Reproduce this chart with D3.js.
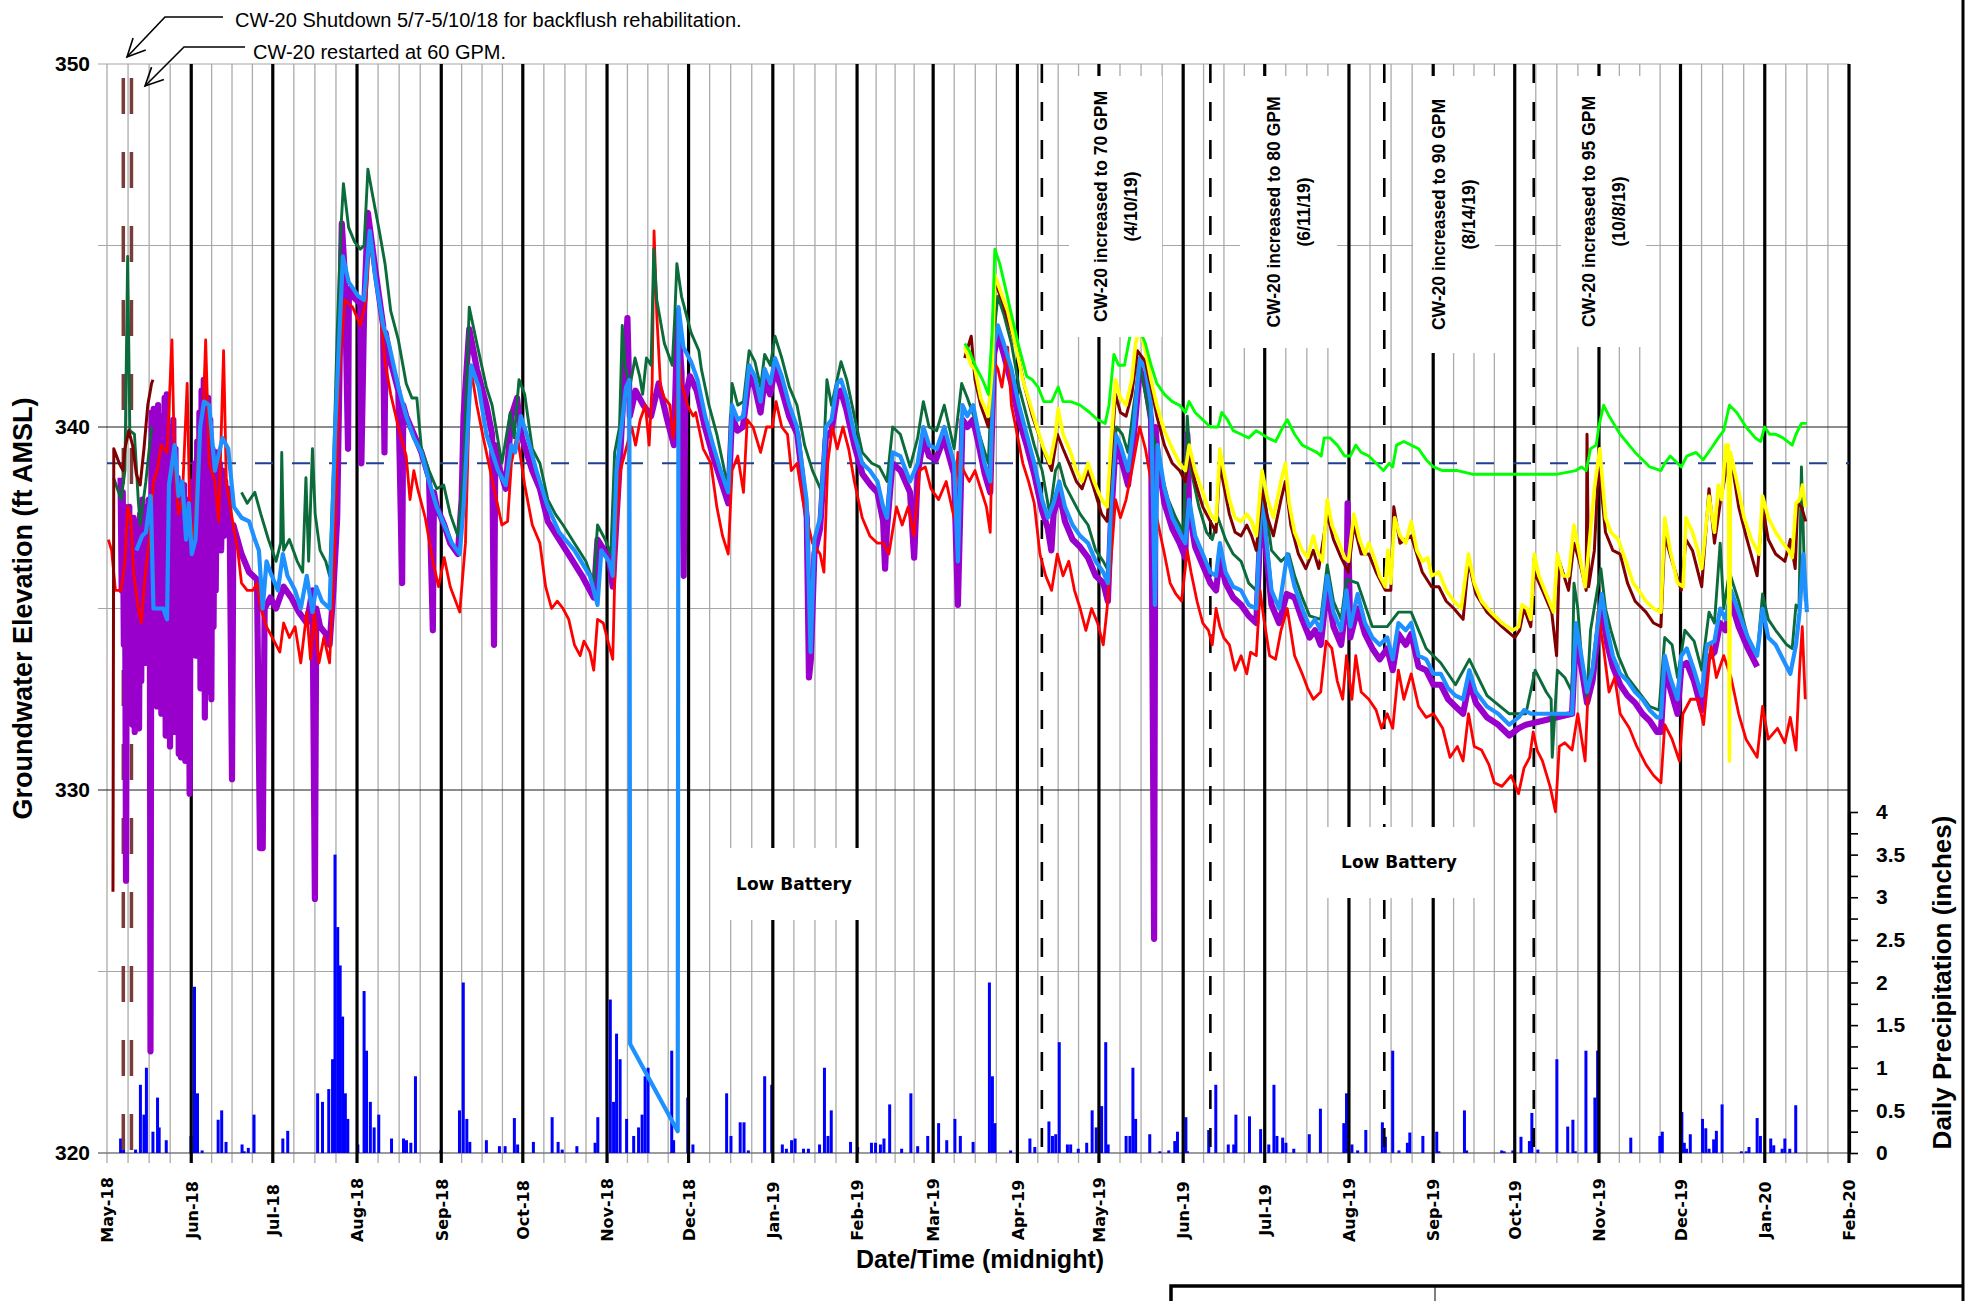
<!DOCTYPE html>
<html>
<head>
<meta charset="utf-8">
<script src="https://cdnjs.cloudflare.com/ajax/libs/d3/7.8.5/d3.min.js"></script>
<style>
  body { margin: 0; background: #fff; }
</style>
</head>
<body>
<div id="chart"></div>
<script>
/* global d3 */

// Canvas
const width = 1969,
  height = 1301
const plot = { left: 107, right: 1849, top: 64, bottom: 1153 }

// ---- Data: [days after 1-May-2018, value] ----
const startDate = '2018-05-01'
const endDate = '2020-02-01'

// groundwater elevations (ft AMSL)
const seriesRed = [[0.5,336.9],[1.7,336.6],[3.1,335.5],[5.2,335.5],[6.6,336.3],[7.6,337.8],[8.7,337.5],[9.8,336.0],[11.5,335.0],[12.6,334.6],[14,335.9],[15.7,337.0],[17.1,338.5],[18.5,338.8],[19.9,339.5],[22.1,339.3],[23.9,342.4],[24.9,338.8],[26.3,337.6],[27.7,338.0],[29.5,341.2],[30.5,337.5],[31.9,336.8],[33.8,339.8],[35.4,340.4],[36.3,342.4],[37.6,339.0],[39.7,338.5],[41.1,337.4],[42.9,342.1],[43.9,338.5],[46,337.5],[48.1,336.6],[49.5,335.7],[51.6,335.5],[53.7,335.5],[55.2,335.7],[56.6,335.0],[58.7,334.5],[61.5,334.1],[63.6,333.8],[65,334.6],[67.1,334.2],[69.2,334.5],[71.3,333.5],[73.5,334.9],[74.9,333.6],[76.3,334.9],[78,333.5],[79.8,334.2],[81.9,333.5],[83.6,336.3],[85.4,341.3],[87.5,343.5],[90.4,343.3],[93.2,342.8],[95.3,343.5],[96.7,345.1],[98.1,344.5],[100.2,343.5],[102.3,341.8],[104.4,340.9],[107.2,340.0],[110.1,339.2],[111.5,338.0],[112.9,338.8],[114.3,338.3],[117.1,337.5],[119.9,336.3],[122,335.6],[124.1,336.4],[126.3,335.6],[129.8,334.9],[131.9,336.8],[133.7,341.7],[136.1,340.6],[138.2,339.8],[141,338.8],[143.9,337.8],[145.3,337.3],[147.4,337.4],[148.8,339.0],[150.9,339.8],[153.7,338.4],[156.5,337.3],[159.3,336.8],[161.4,335.6],[163.6,335.0],[165.7,335.2],[167.8,335.0],[169.9,334.7],[172,334.0],[174.1,333.7],[175.5,334.1],[177.7,333.8],[179.1,333.3],[180.5,334.7],[182.6,334.6],[184.7,334.0],[186.1,333.6],[187.2,336.9],[188.9,338.8],[191,339.4],[193.1,340.0],[194.5,339.5],[196.2,340.2],[198.1,340.6],[199.5,339.5],[200.6,341.2],[201.3,345.4],[202.3,343.1],[203.7,341.1],[205.1,340.8],[207.2,340.6],[208.2,339.7],[209.3,340.3],[210.7,341.8],[211.4,341.2],[213.6,340.6],[215.7,340.3],[216.6,340.4],[219.4,339.4],[222.2,339.0],[224.4,337.8],[226.5,337.0],[228.6,336.5],[230,338.8],[232.1,339.2],[234.2,338.2],[235.6,340.2],[237.7,340.0],[240.5,339.3],[242.7,340.0],[244.8,340.0],[246.2,340.7],[248.3,340.0],[250.4,339.8],[251.8,338.8],[253.9,339.0],[256,338.0],[257.4,337.5],[259.6,336.8],[262.4,336.5],[263.8,336.0],[265.2,339.0],[266.9,340.0],[268.7,339.4],[270.8,340.0],[272.9,339.4],[275,338.5],[277.9,337.5],[280.7,337.0],[283.5,336.8],[285.6,336.8],[287.7,336.5],[290.5,337.8],[292.6,337.3],[294.8,337.8],[296.9,337.0],[299,338.8],[301.1,338.9],[303.2,338.3],[306,338.0],[308.8,338.5],[311.7,337.5],[313.1,339.3],[315.2,338.8],[317.3,338.5],[319.4,338.8],[321.5,338.3],[323.6,337.8],[325,337.1],[326.4,341.8],[327.8,341.6],[329.3,341.1],[331.4,342.2],[332.8,340.6],[334.9,339.8],[337,339.0],[339.1,338.5],[341.2,337.9],[343.3,336.5],[345.4,335.9],[347.6,335.5],[349.7,336.5],[351.8,335.9],[353.9,336.3],[356,335.5],[358.1,335.0],[360.2,334.4],[362.3,335.0],[364.5,334.6],[366.6,334.0],[368,335.0],[369.4,336.3],[371.1,338.0],[372.9,337.5],[375,338.0],[377.1,338.8],[380,340.0],[382.1,339.4],[384.2,338.5],[386.3,337.5],[389.1,336.5],[391.2,335.7],[393.3,335.4],[395.4,335.2],[397.5,336.6],[398.9,336.0],[401.1,335.2],[403.2,334.6],[405.3,334.4],[406.7,334.0],[408.1,335.0],[409.5,334.5],[410.9,334.2],[413,334.0],[415.1,333.3],[417.3,333.7],[419.4,333.2],[420.8,333.8],[422.9,333.7],[424.3,335.5],[425.7,334.7],[427.8,333.7],[430,333.6],[432,334.4],[434.3,335.0],[437,333.7],[439.8,333.2],[441.8,332.8],[443.9,332.5],[446.6,332.7],[448.6,334.1],[450.7,333.9],[452.7,333.0],[454.7,332.5],[456.1,333.7],[458.1,332.5],[459.5,333.7],[461.5,332.7],[464.3,332.5],[467,332.2],[469,331.7],[471.1,332.1],[473.1,331.7],[475.2,333.3],[477.2,332.5],[479.9,333.2],[482.6,332.3],[485.4,332.0],[488.1,332.1],[491.5,331.7],[494.2,330.9],[496.9,331.2],[499,330.8],[501,332.1],[503.1,331.2],[505.8,331.1],[508.5,330.7],[510.5,330.2],[513.3,330.1],[516.7,330.4],[519.4,329.9],[521.4,330.6],[523.5,330.9],[524.8,331.6],[526.2,331.1],[528.2,330.8],[531,330.1],[533,329.4],[534.4,331.2],[536.4,331.3],[539.1,331.1],[541.2,332.1],[543.9,330.8],[545.2,333.1],[547.3,333.5],[548.6,334.9],[550.7,333.9],[552.7,332.7],[554.8,333.1],[556.8,332.1],[560.2,331.7],[562.9,331.2],[566.3,330.7],[569.1,330.4],[571.8,330.2],[573.2,331.8],[575.9,331.4],[578.6,330.8],[579.9,332.1],[582.7,332.5],[585.4,332.5],[587.5,331.8],[590.2,334.0],[592.2,333.1],[594.9,333.7],[597.6,333.1],[600.4,332.1],[603.1,331.4],[607.2,330.9],[609.2,332.3],[611.3,331.4],[614.7,331.7],[617.4,331.3],[619.4,332.0],[621.5,331.1],[622.8,333.3],[623.8,334.5],[624.9,332.5]]

const seriesBlue = [[10.8,336.6],[12.9,337.0],[14.3,337.1],[16.1,338.1],[17.1,335.0],[20.7,335.0],[22.1,334.7],[22.8,338.4],[24.9,339.5],[26.3,338.1],[27.7,338.5],[29.1,336.9],[30.1,337.9],[31.2,336.5],[32.6,336.9],[34.3,340.0],[35.7,340.7],[37.6,340.6],[39.7,338.8],[42.5,339.7],[44.6,339.4],[46.7,337.8],[49.5,337.5],[52.3,337.4],[54.4,336.9],[55.9,336.6],[57.3,335.0],[58.7,336.3],[60.1,336.0],[62.9,335.5],[64.7,336.5],[66.4,335.9],[69.2,335.5],[71.3,335.0],[73.5,335.9],[75.6,334.9],[77,335.6],[79.1,335.2],[81.9,335.0],[84,340.0],[86.8,344.7],[88.9,344.0],[92.5,343.6],[94.6,343.5],[96.7,345.4],[98.8,344.1],[101.6,342.8],[103.7,342.3],[107.2,341.1],[110.1,340.3],[112.9,339.7],[115.7,339.3],[118.5,338.5],[121.3,337.8],[124.1,337.3],[126.9,336.8],[129.8,336.5],[131.2,337.8],[134,341.7],[136.8,341.1],[139.6,339.8],[143.9,338.8],[146.7,338.4],[148.8,339.5],[150.2,339.3],[152.3,340.3],[154.4,339.8],[158,338.8],[162.2,337.8],[166.4,337.1],[172,336.6],[177.7,335.9],[180.5,335.1],[181.9,336.6],[184.7,336.3],[186.1,335.9],[187.5,338.8],[191,341.1],[192.2,341.3],[192.5,323.0],[210,320.6],[210.3,343.3],[212.1,342.2],[214.9,341.8],[217.3,341.3],[220.1,340.3],[223,339.5],[225.8,338.8],[228.6,338.2],[230,340.6],[232.1,340.2],[234.2,340.3],[236.3,341.7],[238.4,341.4],[240.5,340.7],[242,341.6],[244.1,341.2],[245.8,341.9],[248.3,341.4],[251.1,340.6],[253.9,340.0],[256,338.8],[257.4,338.0],[258.9,333.8],[260.3,336.9],[262.4,337.5],[264.5,340.0],[266.6,340.2],[268.7,341.2],[270.1,341.3],[272.2,340.8],[275,339.8],[277.9,339.0],[280.7,338.8],[283.5,338.5],[285.6,337.8],[287,337.5],[289.1,339.3],[291.9,339.2],[295.5,338.5],[298.3,339.0],[300.4,340.0],[302.5,339.5],[305.3,339.4],[308.1,340.0],[311.7,339.0],[313.1,336.3],[314.8,340.6],[316.6,340.3],[318.7,340.6],[320.8,339.8],[322.9,339.0],[325,338.5],[326.4,342.3],[327.8,342.8],[330,342.3],[332.8,341.6],[335.6,340.6],[338.4,339.8],[341.2,339.0],[344.1,338.0],[346.2,337.5],[348.3,337.9],[350.4,338.5],[352.5,337.8],[355.3,337.3],[358.1,337.0],[361,336.8],[363.8,336.3],[366.6,336.0],[368.3,335.7],[369.4,337.8],[371.1,339.8],[372.9,339.5],[375.7,338.8],[377.8,340.0],[380,341.9],[382.1,341.6],[384.2,340.6],[385.6,335.1],[386.6,339.5],[389.1,338.3],[392,337.5],[394.7,337.1],[396.8,336.8],[398.2,338.0],[400.4,337.0],[403.2,336.5],[406,336.0],[408.1,335.9],[409.5,336.8],[411.6,336.0],[414.4,335.6],[417.3,335.5],[420.1,335.1],[422.9,335.0],[425,338.5],[426.4,337.0],[428.5,335.5],[431.3,335.0],[434.3,336.5],[437,335.6],[439.8,335.0],[442.5,334.5],[444.5,334.7],[446.6,334.4],[449,335.9],[451.3,334.9],[454.1,334.4],[456.1,335.5],[457.5,334.5],[460.2,335.4],[462.9,334.6],[465.6,334.2],[468.3,334.0],[471.1,334.2],[473.1,333.6],[475.2,334.6],[477.9,334.4],[479.9,334.6],[482.6,333.7],[485.4,333.6],[488.1,333.2],[490.8,333.2],[493.5,332.8],[496.2,332.6],[499,332.5],[501.3,333.3],[503.7,332.7],[507.8,332.3],[511.9,332.1],[516,331.8],[519.4,332.0],[521.4,332.2],[524.1,332.1],[539.1,332.1],[540.5,334.6],[542.5,333.7],[544.6,332.7],[546.6,333.3],[548.6,334.6],[550,335.4],[552.1,334.4],[554.1,333.7],[556.8,333.2],[559.5,333.0],[562.3,332.7],[565,332.5],[567.7,332.2],[570.4,332.0],[571.8,332.0],[573.2,333.7],[575.2,333.1],[577.9,332.5],[579.3,333.7],[581.3,333.9],[584,333.3],[586.8,332.6],[588.8,334.0],[591.5,334.1],[593.6,335.0],[595.6,334.7],[597.6,335.5],[600.4,334.9],[603.8,334.2],[607.2,333.7],[609.2,335.0],[611.3,334.2],[614,334.0],[616.7,333.6],[619.4,333.2],[621.5,334.0],[622.8,334.9],[624.2,336.5],[625.5,334.9]]

const seriesPurple = [[5.0,338.6],[5.4,335.5],[5.8,338.2],[6.2,334.0],[6.6,337.8],[7.0,327.5],[7.4,337.5],[7.8,333.2],[8.2,337.8],[8.6,332.8],[9.0,337.2],[9.4,331.8],[9.8,337.5],[10.2,331.6],[10.6,337.0],[11.0,332.0],[11.4,337.4],[11.8,331.7],[12.2,337.6],[12.6,333.0],[13.0,338.0],[13.4,333.8],[13.8,337.2],[14.2,333.5],[14.6,337.8],[15.0,334.0],[15.4,338.0],[15.8,333.6],[16.0,322.8],[16.4,340.4],[16.8,334.5],[17.2,340.5],[17.6,333.0],[18.0,340.2],[18.4,332.3],[18.8,340.6],[19.2,332.8],[19.6,339.8],[20.0,332.1],[20.4,340.3],[20.8,333.5],[21.2,340.8],[21.6,331.5],[22.0,340.9],[22.4,332.2],[22.8,340.0],[23.2,331.2],[23.6,339.6],[24.0,333.0],[24.4,340.2],[24.8,331.6],[25.2,339.4],[25.6,332.5],[26.0,338.6],[26.4,331.0],[26.8,338.2],[27.2,330.9],[27.6,337.8],[28.0,332.0],[28.4,338.4],[28.8,330.8],[29.2,337.6],[29.6,331.5],[30.0,338.0],[30.4,329.9],[30.8,336.5],[31.2,333.8],[31.6,338.5],[32.0,334.0],[32.4,339.0],[32.8,333.7],[33.2,339.6],[33.6,334.2],[34.0,340.4],[34.4,332.8],[34.8,341.0],[35.2,333.0],[35.6,341.3],[36.0,332.0],[36.4,340.6],[36.8,333.5],[37.2,340.8],[37.6,332.7],[38.0,340.2],[38.4,332.5],[38.8,339.4],[39.2,334.5],[39.6,338.8],[40.0,335.5],[40.5,339.3],[41.0,336.8],[41.5,339.0],[42.0,336.6],[42.5,338.8],[43.0,337.0],[43.5,338.5],[44.0,337.2],[44.6,338.3],[45.2,337.0],[46.0,330.3],[46.5,337.3],[49.5,336.5],[52.3,336.0],[55.2,335.8],[56.3,328.4],[57.3,328.4],[58.0,335.0],[60.1,335.3],[62.2,335.0],[65.0,335.6],[67.8,335.3],[70.6,334.9],[73.5,334.6],[75.6,335.5],[76.5,327.0],[77.0,335.0],[78.4,334.5],[80.5,334.3],[81.9,334.0],[83.3,335.5],[84.7,337.5],[86.4,345.6],[87.5,344.2],[88.7,339.4],[89.0,343.8],[90.4,343.6],[93.2,343.4],[93.6,339.0],[94.6,343.2],[96.0,345.9],[98.8,344.3],[101.6,342.8],[102.1,339.3],[102.5,342.6],[104.4,341.8],[107.2,341.0],[108.6,335.7],[109.0,340.6],[110.1,340.3],[112.9,339.8],[115.7,339.3],[118.5,338.6],[119.9,334.4],[120.3,338.2],[121.3,337.8],[124.1,337.3],[126.3,336.8],[129.1,336.5],[130.5,338.0],[131.2,340.3],[133.3,342.7],[136.1,341.6],[139.6,340.6],[141.7,339.8],[142.4,334.0],[142.9,339.5],[143.9,339.0],[146.7,338.3],[148.8,340.3],[150.9,340.8],[152.3,339.8],[156.5,338.8],[159.3,338.3],[162.2,337.4],[166.4,336.9],[170.6,336.4],[174.8,335.9],[179.1,335.3],[180.5,336.9],[184.7,336.4],[186.1,335.6],[187.5,337.5],[188.9,339.3],[191.5,343.0],[192.4,340.3],[194.5,341.0],[197.4,340.6],[200.2,340.3],[203.0,341.2],[205.8,340.3],[208.6,339.5],[210.0,343.2],[211.4,341.5],[212.2,335.9],[212.8,340.8],[214.5,341.4],[217,341.0],[220,340.0],[223,339.2],[226,338.5],[228.6,337.9],[230,340.3],[232,339.9],[234,340.0],[236.3,341.4],[238.4,341.1],[240.5,340.4],[242,341.3],[244,340.9],[245.8,341.6],[248,341.1],[251,340.3],[254,339.8],[256,338.5],[257.5,337.5],[258.3,333.1],[259,333.6],[260.3,336.5],[262.4,337.2],[264.5,339.7],[266.6,339.9],[268.7,340.9],[270,341.0],[272,340.5],[275,339.5],[278,338.7],[281,338.4],[283.5,338.2],[285.6,337.4],[286.3,336.1],[287,337.2],[289,339.0],[292,338.8],[295.5,338.2],[297,336.4],[298.3,338.7],[300.4,339.7],[302.5,339.2],[305,339.1],[308,339.7],[311.7,338.7],[313.1,335.1],[314.8,340.2],[316.6,340.0],[318.7,340.2],[320.8,339.5],[323,338.7],[325,338.2],[326.4,342.0],[327.8,342.6],[330,342.0],[332.8,341.2],[335.6,340.2],[338.4,339.5],[341.2,338.7],[344.1,337.7],[346.2,337.2],[347.5,336.6],[348.3,337.6],[350.4,338.2],[352.5,337.4],[355.3,336.9],[358,336.7],[361,336.4],[363.8,335.9],[366.6,335.7],[368.3,335.2],[369.4,337.4],[371.1,339.5],[372.9,339.2],[375.7,338.4],[377.8,339.7],[380,341.6],[382.1,341.2],[384.2,340.2],[385.3,325.9],[385.8,340.0],[386.6,339.2],[389.1,337.9],[392,337.2],[394.7,336.8],[396.8,336.4],[397.5,339.8],[398.2,337.7],[400.4,336.7],[403.2,336.2],[406,335.7],[408.1,335.5],[409.5,336.4],[411.6,335.7],[414.4,335.3],[417.3,335.1],[420.1,334.8],[422.9,334.6],[425,338.2],[426.4,336.7],[428.5,335.1],[431.3,334.6],[434.1,335.4],[437,335.3],[439.8,334.7],[442.5,334.2],[444.5,334.4],[446.6,334.0],[449,335.6],[451.3,334.5],[454.1,334.0],[456.1,335.2],[456.5,337.9],[457.5,334.2],[460.2,335.0],[462.9,334.3],[465.6,333.9],[468.3,333.6],[471.1,333.9],[473.1,333.3],[475.2,334.3],[477.9,334.0],[479.9,334.3],[482.6,333.4],[485.4,333.3],[488.1,332.9],[490.8,332.9],[493.5,332.5],[496.2,332.3],[499,332.1],[501.3,333.0],[503.7,332.4],[507.8,332.0],[511.9,331.8],[516,331.5],[519.4,331.7],[522.1,331.8],[539.1,332.1],[540.5,334.3],[542.5,333.4],[544.6,332.4],[546.6,333.0],[548.6,334.3],[550,335.0],[552.1,334.0],[554.1,333.4],[556.8,332.9],[559.5,332.6],[562.3,332.4],[565,332.1],[567.7,331.9],[570.4,331.6],[571.8,331.6],[573.2,333.4],[575.2,332.8],[577.9,332.1],[579.3,333.4],[581.3,333.5],[584,333.0],[586.8,332.2],[588.8,333.6],[591.5,333.8],[593.6,334.6],[595.6,334.4],[597.6,335.2],[600.4,334.5],[603.8,333.9],[607.2,333.4]]

const seriesDarkGreen = [[2.4,338.6],[5.2,338.0],[6.6,338.8],[7.6,344.7],[8.4,339.9],[10.1,339.8],[11.5,338.0],[12.2,337.3],[14.3,338.5],[16.4,340.0],[17,null],[49.5,338.2],[51.6,337.9],[54.4,338.2],[56.6,337.6],[59.4,336.9],[62.2,336.3],[63.9,336.8],[64.3,339.3],[65,336.6],[67.1,336.9],[70,336.3],[72,336.0],[73.2,338.6],[74.2,336.3],[75.6,339.4],[76.6,337.6],[78.4,336.6],[80.5,336.3],[81.9,335.9],[83.3,338.8],[84.7,342.6],[86.1,345.5],[87,346.7],[88.9,345.5],[91.1,345.1],[93.2,344.9],[94.6,345.0],[96,347.1],[97.7,346.4],[100.2,345.4],[102.3,344.5],[104.4,343.2],[107.2,342.4],[110.1,341.2],[112.2,340.8],[114,340.8],[115.7,339.4],[118.5,338.8],[121.3,338.3],[123.9,338.4],[126.3,337.6],[129.1,337.0],[131.2,338.8],[133.3,343.3],[136.1,342.3],[139.6,341.1],[141.7,340.6],[145.3,339.0],[148.4,340.4],[149.8,339.7],[151.6,341.3],[153.7,340.9],[156.5,339.4],[159.3,339.0],[162.2,338.0],[165,337.6],[167.8,337.3],[172,336.8],[176.2,336.3],[179.1,335.7],[180.5,337.3],[183.3,336.9],[185.4,336.5],[186.8,339.3],[188.6,340.0],[189.6,342.8],[190.6,341.7],[192.4,341.1],[194.3,341.9],[196,341.4],[197.1,340.9],[198.5,341.9],[200.2,341.7],[201.2,344.9],[202.3,343.5],[205.1,342.3],[208,341.7],[208.9,343.0],[209.7,344.5],[211.4,343.6],[214.9,342.6],[217.8,342.1],[218.7,341.6],[221.5,340.6],[224.4,339.8],[227.2,338.8],[228.6,338.4],[230,341.2],[232.1,340.6],[234.2,340.7],[236.3,342.1],[238.4,341.8],[240.5,341.1],[242,342.0],[244.1,341.7],[245.8,342.5],[248.3,341.9],[251.1,341.1],[253.9,340.6],[256.7,339.5],[259.6,338.8],[263.1,338.2],[264.9,341.3],[266.6,340.6],[270.1,341.8],[272.2,341.3],[275,340.3],[277.9,339.3],[281.4,339.0],[284.2,338.9],[287,338.5],[289.1,340.0],[291.9,339.8],[295.5,338.9],[298.3,339.7],[300.4,340.7],[302.5,340.0],[305.3,339.9],[308.1,340.6],[311.7,339.4],[314.5,341.2],[316.6,340.8],[319.4,340.2],[322.2,339.5],[324.3,339.0],[326.4,342.6],[327.8,343.6],[330,343.1],[332.8,342.3],[335.6,341.1],[338.4,340.3],[341.2,339.5],[344.1,338.8],[346.9,337.6],[349,338.8],[350.4,339.0],[352.5,338.4],[355.3,338.0],[358.1,337.6],[361,337.3],[363.8,336.6],[366.6,336.3],[368.7,336.0],[370.1,339.3],[371.5,340.0],[373.6,339.8],[375.7,339.3],[377.8,340.6],[380,341.7],[382.1,340.9],[384.9,339.8],[387.7,338.8],[390.5,338.0],[393.3,337.5],[396.1,337.1],[397.5,340.3],[398.9,338.8],[401.8,337.8],[404.6,337.1],[406.7,336.9],[408.8,337.5],[411.6,336.9],[414.4,336.5],[417.3,336.3],[420.1,335.7],[422.9,335.5],[425.7,338.2],[428.5,336.6],[432,336.3],[434.9,336.5],[437,335.9],[439.8,335.3],[442.5,334.8],[446.6,334.7],[449,336.2],[451.3,335.2],[454.1,334.7],[456.1,335.8],[460.2,335.7],[465.6,334.5],[471.1,334.5],[475.2,334.9],[479.9,334.9],[485.4,333.9],[490.8,333.5],[496.2,332.9],[501.3,333.6],[507.8,332.6],[516,332.1],[522.1,332.1],[525.5,333.3],[529.6,332.7],[531.4,332.5],[531.8,330.9],[533.7,333.3],[536.4,333.1],[539.1,332.7],[539.8,335.7],[541.2,335.0],[542.5,333.7],[544.6,332.6],[545.9,334.4],[549.7,336.1],[551.4,335.0],[553.4,334.4],[556.1,333.7],[559.5,333.1],[563.6,332.7],[567.7,332.3],[571.1,332.2],[573.2,334.2],[575.9,334.0],[577.9,333.1],[580.6,334.4],[584,334.1],[586.8,333.3],[589.5,334.9],[591.5,334.6],[593.6,336.8],[594.9,335.0],[597,336.0],[600.4,335.2],[603.8,334.2],[607.2,333.7],[609.2,335.4],[611.3,334.7],[614,334.4],[618.1,334.0],[620.1,333.9],[621.5,335.1],[622.6,335.0],[623.5,338.9],[624.9,335.2]]

const seriesMaroon = [[2.2,327.2],[2.5,339.4],[4.5,339.0],[5.9,338.8],[6.6,339.4],[8,339.9],[9.4,339.5],[10.8,338.7],[12.2,338.4],[13.6,339.4],[15,340.6],[16.4,341.2],[16.9,341.3],[17.5,null],[315.6,341.9],[318,342.5],[319.4,341.3],[321.5,340.6],[324.3,340.0],[326.7,344.0],[329.3,343.5],[332.1,342.8],[334.9,342.1],[337.7,341.1],[340.5,340.3],[343.3,339.7],[345.4,339.2],[347.6,338.8],[349.7,339.8],[351.8,339.4],[354.6,338.9],[356.7,338.5],[358.8,338.3],[361,338.8],[363.2,338.3],[366,337.6],[368,337.4],[369.4,339.0],[371.1,340.9],[372.9,340.4],[375,340.3],[377.1,340.9],[379.2,342.1],[382.1,341.8],[384.2,341.1],[386.3,340.3],[389.1,339.5],[392,339.0],[394.7,338.8],[396.8,338.5],[398.2,339.3],[400.4,338.5],[403.2,337.8],[406,337.4],[408.1,337.1],[409.5,339.0],[410.9,338.4],[413,337.6],[415.1,337.1],[417.3,337.0],[419.4,337.3],[421.2,337.0],[422.9,336.6],[425,338.3],[427.1,337.5],[429.2,337.0],[432,338.0],[433.6,338.5],[435.6,337.3],[438.4,336.5],[441.1,336.1],[443.9,336.6],[445.9,336.1],[449,337.6],[451.3,336.9],[454.1,336.4],[456.8,336.0],[458.8,337.3],[461.5,336.5],[464.3,336.5],[467,336.0],[470.4,335.5],[472.4,335.5],[473.5,337.8],[475.8,336.8],[479.9,337.0],[484,336.0],[487.4,335.6],[490.1,335.6],[492.8,335.2],[495.6,335.0],[499,334.7],[501,336.3],[503.7,335.4],[507.8,334.9],[513.3,334.5],[518,334.2],[519.8,334.4],[521.4,335.0],[523.9,334.5],[525.2,336.0],[528.2,335.5],[531.6,334.9],[533.4,333.7],[534.4,336.3],[537.8,335.5],[539.8,336.8],[541.8,336.3],[544.3,335.5],[544.6,339.8],[545.2,335.6],[547.3,336.6],[548.9,339.0],[551.4,337.1],[554.1,336.6],[556.8,336.5],[559.5,335.7],[562.3,335.2],[566.3,334.9],[569.1,334.6],[571.8,334.5],[573.2,337.0],[575.9,336.3],[579.3,335.5],[581,336.9],[583.4,336.6],[586.8,335.6],[589.5,338.3],[591.5,336.8],[593.6,337.9],[596.3,339.0],[598.3,338.8],[600.4,337.8],[603.1,337.0],[607.2,335.9],[609.2,337.8],[611.3,336.9],[614,336.5],[617.4,336.3],[619.4,336.9],[621.2,336.1],[622.1,337.9],[623.5,337.8],[625.1,337.4]]

const seriesYellow = [[315.6,342.2],[318,341.7],[319.4,341.6],[321.5,340.8],[324.3,340.3],[325.7,341.6],[326.7,344.2],[328.5,343.8],[331.4,343.2],[334.2,342.3],[337,341.3],[339.8,340.6],[342.6,339.9],[344.7,339.4],[346.9,339.0],[349,339.8],[350,340.5],[351.8,339.8],[354.6,339.3],[356.7,338.8],[358.8,338.5],[361,339.0],[363.2,338.5],[366,338.0],[368,337.8],[369.4,339.5],[371.1,341.3],[372.9,340.8],[375,340.6],[377.1,341.3],[378.5,342.3],[380,342.8],[382.1,342.1],[384.2,341.3],[386.3,340.6],[389.1,339.9],[392,339.4],[394.7,339.0],[396.8,338.8],[398.2,339.5],[400.4,338.8],[403.2,338.2],[406,337.6],[408.1,337.4],[409.5,339.4],[410.9,338.8],[413,338.0],[415.1,337.5],[417.3,337.4],[419.4,337.6],[421.2,337.4],[422.9,337.0],[425,338.8],[427.1,338.0],[429.2,337.5],[432,338.5],[433.6,339.0],[435,337.9],[437,337.1],[439.8,336.6],[441.8,336.4],[443.9,337.0],[445.2,336.6],[447.3,336.3],[449,338.0],[450.7,337.3],[453.4,336.8],[455.4,336.4],[456.8,336.3],[458.8,337.6],[460.9,336.9],[462.9,336.5],[464.3,336.8],[466.3,336.4],[468.3,335.9],[470.4,335.6],[471.3,336.6],[472.4,335.7],[473.8,337.5],[475.8,337.0],[477.9,336.8],[479.9,337.4],[482,336.6],[484,336.3],[486,336.4],[487.4,335.9],[490.1,336.0],[492.8,335.5],[495.6,335.2],[498.3,335.0],[501,336.5],[503.1,335.7],[505.8,335.2],[509.2,334.9],[513.3,334.6],[517.3,334.4],[519.4,334.5],[520.7,335.1],[522.5,335.0],[523.9,334.7],[525.2,336.5],[526.9,335.9],[529.6,335.4],[532.3,334.9],[533.7,336.5],[535.7,335.9],[537.8,335.9],[539.8,337.3],[541.8,336.5],[543.9,335.6],[545.2,336.6],[547.3,338.3],[549.3,339.4],[551.4,337.5],[553.4,337.1],[556.1,336.9],[558.9,336.3],[561.6,335.7],[563.6,335.5],[566.3,335.2],[569.1,335.0],[571.8,334.9],[573.2,337.5],[575.2,336.6],[577.9,335.7],[580,335.6],[581,337.5],[583.4,337.1],[585.4,336.6],[586.8,336.1],[589.5,338.1],[591.5,337.1],[592.9,338.4],[594.2,338.0],[595.6,339.5],[596.6,339.5],[597,330.8],[597.4,339.3],[599.7,338.5],[602.4,337.5],[605.1,336.9],[607.9,336.5],[609.2,338.1],[611.3,337.5],[614,337.1],[616.7,336.8],[618.7,336.6],[620.1,336.4],[621.5,337.9],[622.8,338.0],[623.9,338.4],[624.9,337.8]]

const seriesLime = [[315.6,342.3],[317.3,342.1],[319.4,341.7],[322.2,341.3],[324.3,340.9],[325.7,342.6],[326.7,344.9],[328.5,344.5],[330.7,343.8],[332.8,343.1],[335.6,342.2],[338.4,341.4],[340.5,341.3],[342.6,341.1],[344.7,340.7],[347.6,340.7],[350,341.1],[351.8,340.7],[354.6,340.7],[358.1,340.6],[361.6,340.4],[364.5,340.2],[367.3,340.1],[368.7,340.6],[370.5,342.0],[372.3,341.7],[374.4,341.7],[376.4,342.5],[379.2,342.8],[382.1,342.3],[384.2,341.7],[386.3,341.2],[389.1,340.9],[392,340.7],[394.7,340.6],[396.8,340.4],[398.2,340.7],[400.4,340.4],[403.2,340.2],[406,340.0],[408.8,340.0],[410.2,340.4],[412.3,340.2],[414.4,339.9],[417.3,339.8],[420.1,339.7],[422.9,339.9],[425,339.8],[427.1,339.7],[430,339.6],[432.7,340.0],[434.3,340.2],[437,339.8],[439.8,339.5],[442.5,339.4],[445.2,339.3],[446.8,339.2],[447.9,339.7],[450,339.7],[452.7,339.5],[455.4,339.2],[457.5,339.2],[459.5,339.5],[461.5,339.3],[464.3,339.2],[467,339.0],[469.7,338.8],[471.8,339.0],[473.1,338.9],[474.5,339.5],[477.2,339.6],[479.9,339.5],[482.6,339.4],[485.4,339.1],[488.1,338.9],[491.5,338.8],[496.9,338.8],[502.4,338.7],[507.8,338.7],[513.3,338.7],[520.1,338.7],[526.9,338.7],[533.7,338.7],[540.5,338.8],[542.5,338.9],[544.3,338.8],[545.9,339.4],[548,339.5],[548.9,340.0],[550.7,340.6],[552.7,340.3],[556.8,339.8],[562.3,339.3],[567.7,338.9],[571.8,338.8],[573.2,339.0],[575.2,339.2],[579.3,338.9],[581.3,339.2],[584.7,339.3],[587.4,339.1],[590.2,339.4],[592.9,339.7],[594.9,339.9],[597,340.6],[599.7,340.4],[603.1,340.0],[606.5,339.7],[608.5,339.6],[609.9,340.0],[611.9,339.8],[614,339.8],[616.7,339.7],[620.1,339.5],[621.5,339.8],[623.5,340.1],[625.5,340.1]]

// daily precipitation (inches)
const precipitation = [[5.0,0.17],[6.1,0.17],[10.5,0.04],[12.3,0.8],[13.6,0.45],[14.5,1.0],[16.9,0.25],[18.6,0.65],[19.2,0.3],[21.8,0.15],[30.9,0.2],[32.2,1.95],[33.3,0.7],[35,0.03],[40.9,0.39],[42.2,0.5],[43.8,0.13],[49.7,0.1],[50.5,0.02],[52,0.06],[54.1,0.45],[64.7,0.17],[66.5,0.26],[77.5,0.7],[79.3,0.6],[81.6,0.75],[83,1.1],[83.9,3.5],[84.9,2.65],[85.8,2.2],[86.7,1.6],[87.7,0.7],[88.6,0.4],[92.3,0.1],[94.6,1.9],[95.5,1.2],[96.9,0.6],[98.3,0.3],[100,0.45],[104.7,0.17],[109.1,0.17],[110.2,0.15],[111.8,0.12],[113.5,0.9],[122.8,0.03],[129.7,0.5],[131.1,2.0],[132.4,0.4],[133.5,0.13],[139.6,0.15],[144.4,0.08],[146.5,0.08],[149.9,0.41],[151.1,0.1],[156.9,0.13],[163.8,0.42],[166,0.13],[167.5,0.04],[172.9,0.08],[179.6,0.12],[180.6,0.42],[185.2,1.8],[186.4,0.6],[187.5,1.4],[188.8,1.1],[191.2,0.4],[193.8,0.2],[195.6,0.3],[196.9,0.45],[198,0.9],[199.1,1.0],[207.8,1.2],[208.5,0.15],[213.7,0.65],[215.6,0.1],[228,0.7],[229.6,0.2],[233,0.36],[234.4,0.36],[236,0.03],[242,0.9],[244.6,0.8],[248.5,0.1],[250,0.05],[251.9,0.15],[253.2,0.17],[256.3,0.05],[258.1,0.05],[262.2,0.1],[264,1.0],[265.3,0.2],[266.5,0.5],[273.6,0.13],[276.2,0.07],[281.3,0.12],[282.8,0.12],[284.6,0.1],[285.9,0.17],[288,0.57],[292.4,0.05],[295.8,0.7],[298.3,0.08],[302,0.2],[306,0.35],[309,0.15],[312,0.4],[314,0.2],[318.7,0.13],[324.7,2.0],[325.8,0.9],[326.7,0.35],[332.5,0.03],[339.6,0.17],[341.4,0.07],[346.6,0.37],[347.9,0.2],[349.1,0.22],[350.4,1.3],[353.4,0.1],[354.6,0.1],[357.4,0.05],[360.5,0.12],[362.5,0.5],[364,0.3],[366,0.55],[367.5,1.3],[368.4,0.1],[375,0.2],[376.4,0.2],[377.5,1.0],[378.5,0.4],[383.7,0.22],[387.4,0.02],[390.7,0.03],[392.9,0.14],[393.9,0.25],[397,0.42],[397.6,0.02],[405.4,0.27],[408,0.8],[412.6,0.1],[414.6,0.1],[415.4,0.45],[420.4,0.43],[424.5,0.28],[427.5,0.1],[429.4,0.8],[430.5,0.2],[432.6,0.18],[433.8,0.12],[436.7,0.05],[442.4,0.22],[446.5,0.52],[455.1,0.35],[456.1,0.7],[458.1,0.1],[460.2,0.03],[463.2,0.27],[469.3,0.36],[470.4,0.19],[473.1,1.2],[475.4,0.03],[478.5,0.12],[479.4,0.24],[484.2,0.2],[489.3,0.25],[490.1,0.02],[499.5,0.5],[500.3,0.03],[513.2,0.03],[514.1,0.02],[517.3,0.03],[520.3,0.19],[523.4,0.14],[524.3,0.47],[526.5,0.04],[533.5,1.1],[537.5,0.31],[539.4,0.39],[540.3,0.02],[544.2,1.2],[547.5,0.65],[548.5,1.2],[560.7,0.18],[571.4,0.2],[572.3,0.25],[579.5,0.48],[580.4,0.12],[581.2,0.05],[582.6,0.22],[587.1,0.4],[588.3,0.29],[589.5,0.05],[591.2,0.16],[592.2,0.26],[594.3,0.57],[601.4,0.02],[603.2,0.02],[604.2,0.07],[607.2,0.41],[608.4,0.2],[612.2,0.17],[613.3,0.09],[616.4,0.05],[617.4,0.17],[619.2,0.05],[621.4,0.56]]

// reference level, events, notes
const referenceLevel = 339
const shutdownDays = [6, 9]            // 5/7/18 and 5/10/18
const rateChangeDays = [344, 406, 470, 525]  // 4/10/19, 6/11/19, 8/14/19, 10/8/19
const rateChangeLabels = [
  ['CW-20 increased to 70 GPM', '(4/10/19)'],
  ['CW-20 increased to 80 GPM', '(6/11/19)'],
  ['CW-20 increased to 90 GPM', '(8/14/19)'],
  ['CW-20 increased to 95 GPM', '(10/8/19)']
]
const elevationTicks = [320, 330, 340, 350]
const elevationGrid = [320, 325, 330, 335, 340, 345, 350]
const precipTicks = d3.range(0, 4.001, 0.25)

// ---- helpers ----
const dayMs = 864e5
const t0 = d3.utcParse('%Y-%m-%d')(startDate)
const toDate = d => new Date(t0.getTime() + d * dayMs)

const svg = d3.select('#chart')
  .append('svg')
  .attr('width', width)
  .attr('height', height)
  .style('background', '#fff')
  .style('display', 'block')

const x = d3.scaleUtc()
  .domain([t0, d3.utcParse('%Y-%m-%d')(endDate)])
  .range([plot.left, plot.right])

const y = d3.scaleLinear()
  .domain([320, 350])
  .range([plot.bottom, plot.top])

const yP = d3.scaleLinear()
  .domain([0, 4])
  .range([plot.bottom, 812])

const months = d3.utcMonth.range(t0, d3.utcDay.offset(x.domain()[1], 1))

// vertical quarter-month gridlines
const quarterLines = []
months.slice(0, -1).forEach((m, i) => {
  const next = months[i + 1]
  for (let k = 0; k <= 3; k++) quarterLines.push(new Date(+m + (next - m) * k / 4))
})

svg.append('g')
  .selectAll('line')
  .data(quarterLines)
  .enter()
  .append('line')
  .attr('x1', d => x(d)).attr('x2', d => x(d))
  .attr('y1', plot.top).attr('y2', plot.bottom + 10)
  .attr('stroke', '#ababab')
  .attr('stroke-width', 1.3)

// horizontal gridlines
svg.append('g')
  .selectAll('line')
  .data(elevationGrid)
  .enter()
  .append('line')
  .attr('x1', plot.left - 9).attr('x2', plot.right)
  .attr('y1', d => y(d)).attr('y2', d => y(d))
  .attr('stroke', d => (d === 330 || d === 340) ? '#1a1a1a' : (d === 320 ? '#7a7a7a' : '#a6a6a6'))
  .attr('stroke-width', d => d === 320 ? 1.6 : 1.2)

// precipitation bars
const barW = 3
svg.append('g')
  .selectAll('rect')
  .data(precipitation)
  .enter()
  .append('rect')
  .attr('x', d => x(toDate(d[0])) - barW / 2)
  .attr('y', d => yP(d[1]))
  .attr('width', barW)
  .attr('height', d => plot.bottom - yP(d[1]))
  .attr('fill', '#0000ff')

// thick month lines
svg.append('g')
  .selectAll('line')
  .data(months.slice(1))
  .enter()
  .append('line')
  .attr('x1', d => x(d)).attr('x2', d => x(d))
  .attr('y1', plot.top).attr('y2', plot.bottom + 10)
  .attr('stroke', '#000')
  .attr('stroke-width', 3.2)

// reference level
svg.append('line')
  .attr('x1', plot.left).attr('x2', plot.right)
  .attr('y1', y(referenceLevel)).attr('y2', y(referenceLevel))
  .attr('stroke', '#1f3f8f')
  .attr('stroke-width', 2)
  .attr('stroke-dasharray', '18,19')

// shutdown dashed lines
svg.append('g')
  .selectAll('line')
  .data(shutdownDays)
  .enter()
  .append('line')
  .attr('x1', d => x(toDate(d))).attr('x2', d => x(toDate(d)))
  .attr('y1', 78).attr('y2', plot.bottom)
  .attr('stroke', '#7a3b3b')
  .attr('stroke-width', 3.5)
  .attr('stroke-dasharray', '36,38')

// pumping-rate change dashed lines
svg.append('g')
  .selectAll('line')
  .data(rateChangeDays)
  .enter()
  .append('line')
  .attr('x1', d => x(toDate(d))).attr('x2', d => x(toDate(d)))
  .attr('y1', plot.top).attr('y2', plot.bottom)
  .attr('stroke', '#000')
  .attr('stroke-width', 2.6)
  .attr('stroke-dasharray', '19,19')

// groundwater lines
const line = d3.line()
  .defined(d => d[1] != null)
  .x(d => x(toDate(d[0])))
  .y(d => y(d[1]))

const series = [
  { data: seriesPurple, color: '#9900cc', w: 6.2 },
  { data: seriesRed, color: '#ff0000', w: 2.8 },
  { data: seriesDarkGreen, color: '#0b6b3a', w: 2.9 },
  { data: seriesBlue, color: '#1e90ff', w: 4.2 },
  { data: seriesMaroon, color: '#800000', w: 3 },
  { data: seriesYellow, color: '#ffff00', w: 3.6 },
  { data: seriesLime, color: '#00ff00', w: 2.9 }
]

svg.append('g')
  .selectAll('path')
  .data(series)
  .enter()
  .append('path')
  .attr('d', s => line(s.data))
  .attr('fill', 'none')
  .attr('stroke', s => s.color)
  .attr('stroke-width', s => s.w)
  .attr('stroke-linejoin', 'round')

// annotation boxes for pumping changes
const boxes = [
  { x0: 1069, x1: 1162, y1: 337 },
  { x0: 1240, x1: 1337, y1: 348 },
  { x0: 1413, x1: 1495, y1: 353 },
  { x0: 1561, x1: 1646, y1: 347 }
]
boxes.forEach((b, i) => {
  const g = svg.append('g')
  g.append('rect')
    .attr('x', b.x0).attr('y', 76)
    .attr('width', b.x1 - b.x0).attr('height', b.y1 - 76)
    .attr('fill', '#fff')
  const cx = (b.x0 + b.x1) / 2, cy = (76 + b.y1) / 2
  const lines = rateChangeLabels[i]
  lines.forEach((t, j) => {
    g.append('text')
      .attr('transform', `translate(${cx + (j - 0.5) * 30},${cy}) rotate(-90)`)
      .attr('text-anchor', 'middle')
      .attr('dy', '0.35em')
      .style('font-family', '"Liberation Sans", Arial, sans-serif')
      .style('font-weight', 'bold')
      .style('font-size', '17.5px')
      .text(t)
  })
})

// low battery notes
const lowBattery = [
  { x0: 722, x1: 866, y0: 848, y1: 920 },
  { x0: 1322, x1: 1476, y0: 827, y1: 898 }
]
lowBattery.forEach(b => {
  svg.append('rect')
    .attr('x', b.x0).attr('y', b.y0)
    .attr('width', b.x1 - b.x0).attr('height', b.y1 - b.y0)
    .attr('fill', '#fff')
  svg.append('text')
    .attr('x', (b.x0 + b.x1) / 2).attr('y', (b.y0 + b.y1) / 2)
    .attr('text-anchor', 'middle')
    .attr('dy', '0.35em')
    .style('font-family', '"DejaVu Sans", Verdana, sans-serif')
    .style('font-weight', 'bold')
    .style('font-size', '17px')
    .text('Low Battery')
})

// x axis
const xAxis = svg.append('g')
  .attr('transform', `translate(0,${plot.bottom})`)
  .call(d3.axisBottom(x).tickValues(months).tickFormat(d3.utcFormat('%b-%y')).tickSize(0))
xAxis.select('.domain').remove()
xAxis.selectAll('text')
  .attr('transform', 'rotate(-90)')
  .attr('x', -57)
  .attr('y', 0)
  .attr('dy', '0.36em')
  .style('text-anchor', 'middle')
  .style('font-family', '"DejaVu Sans", Verdana, sans-serif')
  .style('font-weight', 'bold')
  .style('font-size', '16px')
  .style('fill', '#000')

// left axis
const yAxis = svg.append('g')
  .attr('transform', `translate(${plot.left},0)`)
  .call(d3.axisLeft(y).tickValues(elevationTicks).tickSize(0).tickPadding(17))
yAxis.select('.domain').remove()
yAxis.selectAll('text')
  .style('font-family', '"Liberation Sans", Arial, sans-serif')
  .style('font-weight', 'bold')
  .style('font-size', '21px')
  .style('fill', '#000')

// right axis (precipitation)
const pAxis = svg.append('g')
  .attr('transform', `translate(${plot.right},0)`)
  .call(d3.axisRight(yP).tickValues(precipTicks).tickSizeInner(9).tickSizeOuter(0).tickPadding(18)
    .tickFormat(d => (Math.round(d * 100) % 50 === 0) ? d3.format('')(d) : ''))
pAxis.select('.domain').attr('stroke', '#000').attr('stroke-width', 3.2)
pAxis.selectAll('.tick line').attr('stroke', '#000').attr('stroke-width', 1.6)
pAxis.selectAll('text')
  .style('font-family', '"Liberation Sans", Arial, sans-serif')
  .style('font-weight', 'bold')
  .style('font-size', '21px')
  .style('fill', '#000')

// axis titles
const titleStyle = sel => sel
  .style('font-family', '"Liberation Sans", Arial, sans-serif')
  .style('font-weight', 'bold')
  .attr('text-anchor', 'middle')
  .attr('dy', '0.35em')

svg.append('text')
  .attr('transform', `translate(23,${(plot.top + plot.bottom) / 2}) rotate(-90)`)
  .call(titleStyle)
  .style('font-size', '27px')
  .text('Groundwater Elevation (ft AMSL)')

svg.append('text')
  .attr('transform', `translate(1942,${(812 + plot.bottom) / 2}) rotate(-90)`)
  .call(titleStyle)
  .style('font-size', '26px')
  .text('Daily Precipitation (inches)')

svg.append('text')
  .attr('x', 980).attr('y', 1259)
  .call(titleStyle)
  .style('font-size', '25px')
  .text('Date/Time (midnight)')

// top notes with leader arrows
const notes = [
  { text: 'CW-20 Shutdown 5/7-5/10/18 for backflush rehabilitation.', tx: 235, ty: 20, path: [[223, 17], [165, 17], [127, 57]] },
  { text: 'CW-20 restarted at 60 GPM.', tx: 253, ty: 52, path: [[245, 47], [184, 47], [145, 86]] }
]
notes.forEach(n => {
  svg.append('text')
    .attr('x', n.tx).attr('y', n.ty)
    .attr('dy', '0.35em')
    .style('font-family', '"Liberation Sans", Arial, sans-serif')
    .style('font-size', '20px')
    .text(n.text)
  svg.append('path')
    .attr('d', d3.line()(n.path))
    .attr('fill', 'none')
    .attr('stroke', '#000')
    .attr('stroke-width', 1.6)
  const [a, b] = n.path.slice(-2)
  const ang = Math.atan2(a[1] - b[1], a[0] - b[0])
  const L = 20, s = 0.45
  const head = [
    [b[0] + L * Math.cos(ang + s), b[1] + L * Math.sin(ang + s)],
    b,
    [b[0] + L * Math.cos(ang - s), b[1] + L * Math.sin(ang - s)]
  ]
  svg.append('path')
    .attr('d', d3.line()(head))
    .attr('fill', 'none')
    .attr('stroke', '#000')
    .attr('stroke-width', 1.6)
})

// outer frame and legend box edge
svg.append('line')
  .attr('x1', 1963).attr('x2', 1963).attr('y1', 0).attr('y2', height)
  .attr('stroke', '#000').attr('stroke-width', 3)
svg.append('path')
  .attr('d', 'M1171,1301V1286H1963')
  .attr('fill', 'none').attr('stroke', '#000').attr('stroke-width', 3.5)
svg.append('line')
  .attr('x1', 1435).attr('x2', 1435).attr('y1', 1286).attr('y2', height)
  .attr('stroke', '#000').attr('stroke-width', 1)
</script>
</body>
</html>
